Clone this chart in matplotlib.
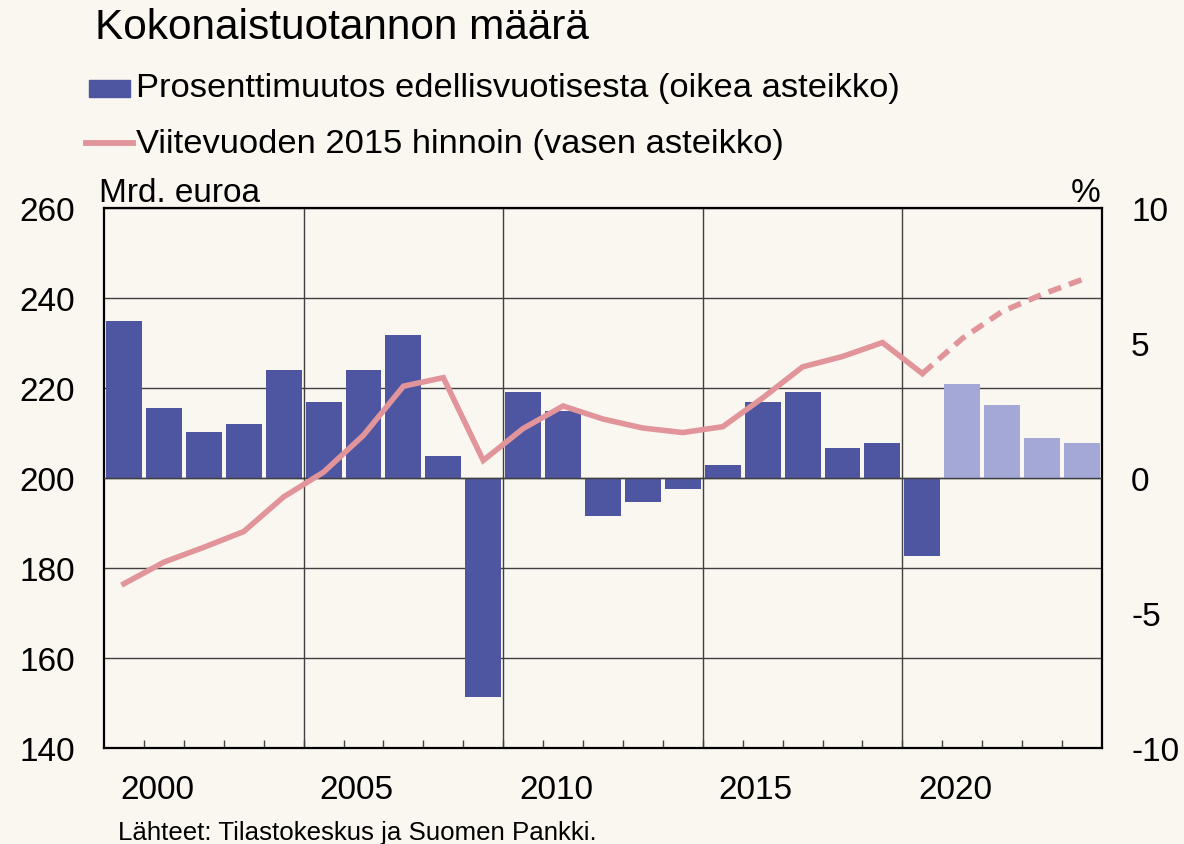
import numpy as np
import matplotlib.pyplot as plt
from matplotlib.patches import Rectangle
from matplotlib.lines import Line2D

plt.rcParams['font.family'] = ['Liberation Sans', 'DejaVu Sans']

# data
years = list(range(2000, 2025))
pct_change = [5.8, 2.6, 1.7, 2.0, 4.0, 2.8, 4.0, 5.3, 0.8, -8.1,
              3.2, 2.5, -1.4, -0.9, -0.4, 0.5, 2.8, 3.2, 1.1, 1.3,
              -2.9, 3.5, 2.7, 1.5, 1.3]
gdp_level = [176.5, 181.3, 184.6, 188.1, 195.8, 201.3, 209.5, 220.4, 222.3, 203.9,
             211.0, 216.0, 213.1, 211.1, 210.1, 211.4, 217.8, 224.7, 227.0, 230.1,
             223.2, 231.0, 237.0, 240.8, 244.1]
first_forecast = 2021
label_years = [2000, 2005, 2010, 2015, 2020]
left_ticks = [140, 160, 180, 200, 220, 240, 260]
right_ticks = [-10, -5, 0, 5, 10]

bg = '#faf6f0'
dark_bar = '#4e55a1'
light_bar = '#a4a8d7'
line_col = '#e1959b'
grid_col = '#404040'

W, H = 1184, 845
fig = plt.figure(figsize=(W / 100, H / 100), dpi=100, facecolor=bg)
rect = [104 / W, 1 - 749 / H, 998 / W, 540 / H]
fs = 24

# base axes: grid + left scale
ax = fig.add_axes(rect, facecolor=bg)
ax.set_xlim(years[0] - 0.5, years[-1] + 0.5)
ax.set_ylim(left_ticks[0], left_ticks[-1])
ax.set_yticks(left_ticks)
ax.set_xticks([y - 0.5 for y in label_years[1:]])
ax.set_xticks([y - 0.5 for y in years[1:]], minor=True)
ax.set_xticklabels([])
ax.grid(True, which='major', color=grid_col, lw=1.0)
ax.tick_params(axis='y', length=0, pad=21, labelsize=fs)
ax.tick_params(axis='x', which='both', direction='in', length=6, width=1.0,
               color=grid_col)
for s in ax.spines.values():
    s.set_linewidth(1.6)

for y in label_years:
    ax.text(y + 0.83, -0.077, str(y), transform=ax.get_xaxis_transform(),
            ha='center', va='center', fontsize=fs)

# bars on right scale
ax2 = ax.twinx()
ax2.set_ylim(right_ticks[0], right_ticks[-1])
ax2.set_yticks(right_ticks)
ax2.set_yticklabels([str(t) for t in right_ticks])
ax2.tick_params(axis='y', length=0, pad=21, labelsize=fs)
bar_cols = [light_bar if y >= first_forecast else dark_bar for y in years]
ax2.bar(years, pct_change, width=0.9, color=bar_cols, zorder=2)
ax2.axhline(0, color=grid_col, lw=1.0, zorder=3)
for s in ax2.spines.values():
    s.set_visible(False)

# level line on left scale
ax3 = ax.twinx()
ax3.set_ylim(left_ticks[0], left_ticks[-1])
ax3.set_yticks([])
for s in ax3.spines.values():
    s.set_visible(False)
k = years.index(first_forecast - 1)
ax3.plot(years[:k + 1], gdp_level[:k + 1], color=line_col, lw=4,
         solid_joinstyle='miter')
ax3.plot(years[k:], gdp_level[k:], color=line_col, lw=4,
         dashes=(2.4, 1.5), dash_capstyle='butt')

ax.text(-0.005, 1.0, 'Mrd. euroa', transform=ax.transAxes, ha='left',
        va='bottom', fontsize=fs)
ax.text(0.998, 1.0, '%', transform=ax.transAxes, ha='right',
        va='bottom', fontsize=fs)

# title, legend, source
fig.text(95 / W, 1 - 28 / H, 'Kokonaistuotannon määrä', fontsize=30.5,
         va='center', ha='left')
fig.add_artist(Rectangle((89 / W, 1 - 98 / H), 41 / W, 17 / H,
                         transform=fig.transFigure, color=dark_bar))
fig.text(136 / W, 1 - 89 / H, 'Prosenttimuutos edellisvuotisesta (oikea asteikko)',
         fontsize=24.8, va='center', ha='left')
fig.add_artist(Line2D([86 / W, 133 / W], [1 - 144 / H, 1 - 144 / H],
                      transform=fig.transFigure, color=line_col, lw=4.2))
fig.text(136 / W, 1 - 145 / H, 'Viitevuoden 2015 hinnoin (vasen asteikko)',
         fontsize=24.8, va='center', ha='left')
fig.text(118 / W, 1 - 833 / H, 'Lähteet: Tilastokeskus ja Suomen Pankki.',
         fontsize=18.6, va='center', ha='left')

fig.savefig('out.png', dpi=100, facecolor=bg)
